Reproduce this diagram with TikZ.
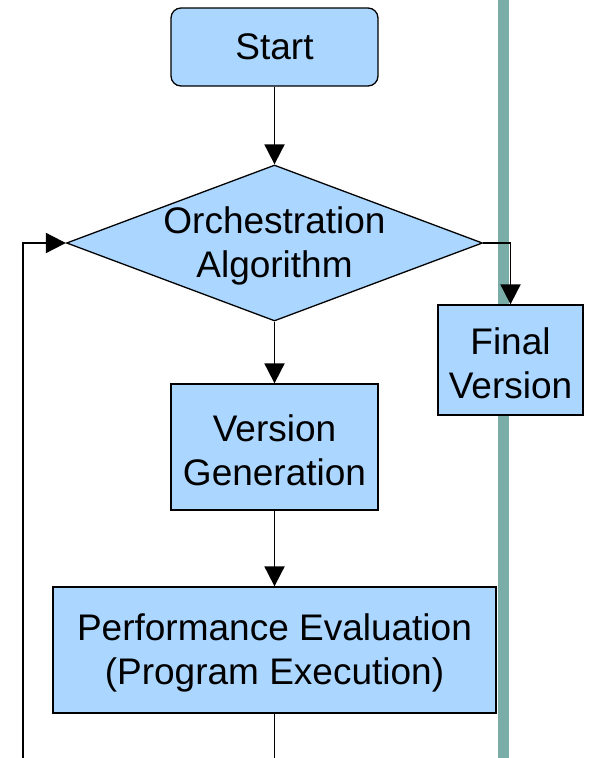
\documentclass[tikz,border=0pt]{standalone}
\usepackage{fontspec}
\setmainfont{Liberation Sans}
\usetikzlibrary{arrows.meta,shapes.geometric}
\definecolor{BoxClr}{RGB}{170,214,255}
\definecolor{RailClr}{RGB}{122,173,168}

\begin{document}
\begin{tikzpicture}[x=1pt,y=-1pt,
  boxfont/.style={align=center,font=\fontsize{37}{44}\selectfont},
  box/.style={draw=black,line width=1.3pt,fill=BoxClr,inner sep=0pt,boxfont},
  boxtext/.style={label={[boxfont,yshift=-3pt]center:#1}},
  link/.style={line width=1.9pt,-{Triangle[width=20pt,length=20pt]}}]
\useasboundingbox (0,0) rectangle (590,758);

\fill[RailClr] (498,0) rectangle (509,758);

\node[box,rounded corners=10pt,minimum width=207pt,minimum height=78pt] (start) at (274.5,47) {Start};
\node[box,diamond,minimum width=416pt,minimum height=156pt,boxtext={Orchestration\\Algorithm}] (orch) at (274.5,243) {};
\node[box,minimum width=145pt,minimum height=110pt,boxtext={Final\\Version}] (final) at (510.5,360) {};
\node[box,minimum width=207pt,minimum height=126pt,boxtext={Version\\Generation}] (vgen) at (274.5,447) {};
\node[box,minimum width=443pt,minimum height=126pt,boxtext={Performance Evaluation\\(Program Execution)}] (perf) at (274.5,650) {};

\coordinate (out) at (274.5,758);
\coordinate (back) at (23,758);

\draw[link] (start.south) -- (orch.north);
\draw[link] (orch.east) -| (final.north);
\draw[link] (orch.south) -- (vgen.north);
\draw[link] (vgen.south) -- (perf.north);
\draw[line width=1.9pt] (perf.south) -- (out);
\draw[link] (back) |- (orch.west);

\end{tikzpicture}
\end{document}
